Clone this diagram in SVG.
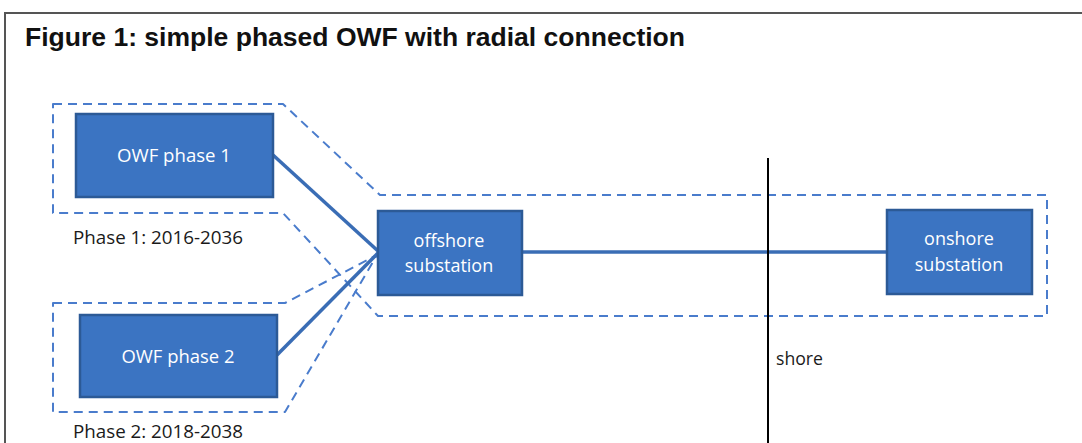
<svg xmlns="http://www.w3.org/2000/svg" width="1082" height="443" viewBox="0 0 1082 443">
<defs>
<style>
.box{fill:#3b74c2;stroke:#2c5a96;stroke-width:2.5}
.btxt{font-family:"Open Sans","Noto Sans",sans-serif;font-size:18px;fill:#ffffff;text-anchor:middle}
.lbl{font-family:"Open Sans","Noto Sans",sans-serif;font-size:18.5px;fill:#1a1a1a}
.dash{fill:none;stroke:#4a7ccc;stroke-width:2;stroke-dasharray:9 6;stroke-linejoin:round}
.conn{stroke:#3a6db5;stroke-width:3.5;fill:none}
</style>
</defs>
<rect x="0" y="0" width="1082" height="443" fill="#ffffff"/>
<g id="frame">
<path d="M5,443 V13 H1082" fill="none" stroke="#555555" stroke-width="2"/>
</g>
<text id="title" x="25" y="46" font-family="'Liberation Sans',Arial,sans-serif" font-weight="bold" font-size="25" fill="#111111" textLength="660" lengthAdjust="spacingAndGlyphs">Figure 1: simple phased OWF with radial connection</text>
<g id="boundaries">
<path id="phase1-boundary" class="dash" d="M53,104 H283 L380,195 H1047 V316 H378 L283,213 H53 Z"/>
<path id="phase2-boundary" class="dash" d="M53,303 H285 L377,255 L285,412 H53 Z"/>
</g>
<g id="connectors">
<line class="conn" x1="273" y1="155" x2="378" y2="251"/>
<line class="conn" x1="277" y1="355" x2="378" y2="253"/>
<line class="conn" x1="522" y1="252" x2="887" y2="252"/>
</g>
<g id="shore">
<line x1="768" y1="158" x2="768" y2="443" stroke="#000000" stroke-width="2"/>
<text class="lbl" x="776" y="365" textLength="47" lengthAdjust="spacingAndGlyphs">shore</text>
</g>
<g id="owf1">
<rect class="box" x="76" y="114" width="197" height="83"/>
<text class="btxt" x="174" y="162" textLength="114" lengthAdjust="spacingAndGlyphs">OWF phase 1</text>
</g>
<g id="owf2">
<rect class="box" x="80" y="315" width="197" height="82"/>
<text class="btxt" x="178" y="363" textLength="113" lengthAdjust="spacingAndGlyphs">OWF phase 2</text>
</g>
<g id="offshore">
<rect class="box" x="378" y="211" width="144" height="84"/>
<text class="btxt" x="449" y="247">offshore</text>
<text class="btxt" x="449" y="272">substation</text>
</g>
<g id="onshore">
<rect class="box" x="887" y="210" width="145" height="84"/>
<text class="btxt" x="959" y="245">onshore</text>
<text class="btxt" x="959" y="271">substation</text>
</g>
<g id="labels">
<text class="lbl" x="73" y="244" textLength="170" lengthAdjust="spacingAndGlyphs">Phase 1: 2016-2036</text>
<text class="lbl" x="73" y="438" textLength="170" lengthAdjust="spacingAndGlyphs">Phase 2: 2018-2038</text>
</g>
</svg>
